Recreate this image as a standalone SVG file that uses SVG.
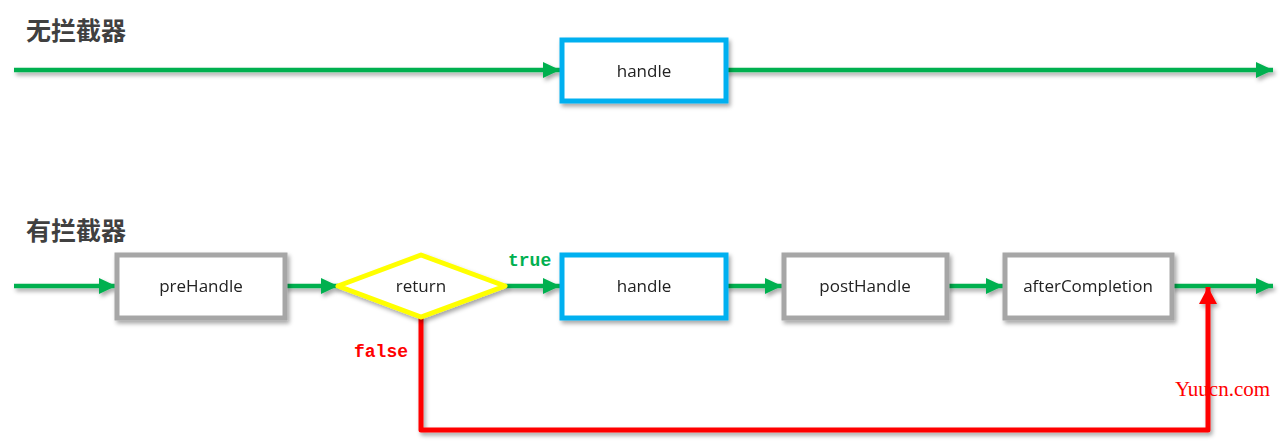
<svg xmlns="http://www.w3.org/2000/svg" width="1285" height="445" viewBox="0 0 1285 445">
<style>
.title{font-family:"Noto Sans CJK SC",sans-serif;font-weight:bold;font-size:25px;fill:#404040}
.lbl{font-family:"Open Sans","Liberation Sans",sans-serif;font-size:17px;fill:#222;text-anchor:middle}
.g{stroke:#00b050;stroke-width:4.5;fill:none}
.r{stroke:#ff0000;stroke-width:5;fill:none;stroke-linejoin:round}
.box{fill:#fff;stroke-width:5}
.blue{stroke:#00b0f0}
.gray{stroke:#a6a6a6}
.code{font-family:"Liberation Mono",monospace;font-weight:bold;font-size:18px}
</style>
<defs>
<filter id="sh" x="-10%" y="-10%" width="130%" height="150%">
<feDropShadow dx="2" dy="3" stdDeviation="2" flood-color="#000" flood-opacity="0.35"/>
</filter>
<marker id="ag" markerUnits="userSpaceOnUse" markerWidth="18" markerHeight="16" refX="17" refY="8" orient="auto">
<path d="M0,0 L17,8 L0,16 z" fill="#00b050"/>
</marker>
<marker id="ar" markerUnits="userSpaceOnUse" markerWidth="18" markerHeight="18" refX="17" refY="9" orient="auto">
<path d="M0,0 L17,9 L0,18 z" fill="#ff0000"/>
</marker>
</defs>
<text class="title" x="26" y="40">无拦截器</text>
<text class="title" x="26" y="240">有拦截器</text>
<g id="connectors" filter="url(#sh)">
<line class="g" x1="14" y1="70" x2="560" y2="70" marker-end="url(#ag)"/>
<line class="g" x1="726" y1="70" x2="1273" y2="70" marker-end="url(#ag)"/>
<line class="g" x1="14" y1="286" x2="116" y2="286" marker-end="url(#ag)"/>
<line class="g" x1="285" y1="286" x2="338" y2="286" marker-end="url(#ag)"/>
<line class="g" x1="505" y1="286" x2="560" y2="286" marker-end="url(#ag)"/>
<line class="g" x1="726" y1="286" x2="782" y2="286" marker-end="url(#ag)"/>
<line class="g" x1="947" y1="286" x2="1003" y2="286" marker-end="url(#ag)"/>
<line class="g" x1="1172" y1="286" x2="1273" y2="286" marker-end="url(#ag)"/>
<polyline class="r" points="421,317 421,430 1208,430 1208,287" marker-end="url(#ar)"/>
</g>
<text class="code" x="508" y="266" fill="#00b050">true</text>
<text class="code" x="354" y="357" fill="#ff0000">false</text>
<g id="handle1" filter="url(#sh)">
<rect class="box blue" x="562" y="40" width="164" height="61"/>
<text class="lbl" x="644" y="77">handle</text>
</g>
<g id="preHandle" filter="url(#sh)">
<rect class="box gray" x="117" y="255" width="168" height="63"/>
<text class="lbl" x="201" y="292">preHandle</text>
</g>
<g id="return" filter="url(#sh)">
<polygon points="338,286 421,255 505,286 421,317" fill="#fff" stroke="#ffff00" stroke-width="5" stroke-linejoin="round"/>
<text class="lbl" x="421" y="292">return</text>
</g>
<g id="handle2" filter="url(#sh)">
<rect class="box blue" x="562" y="255" width="164" height="63"/>
<text class="lbl" x="644" y="292">handle</text>
</g>
<g id="postHandle" filter="url(#sh)">
<rect class="box gray" x="784" y="255" width="163" height="63"/>
<text class="lbl" x="865" y="292">postHandle</text>
</g>
<g id="afterCompletion" filter="url(#sh)">
<rect class="box gray" x="1005" y="255" width="167" height="63"/>
<text class="lbl" x="1088" y="292">afterCompletion</text>
</g>
<text x="1175" y="396" font-family="Liberation Serif,serif" font-size="21" fill="#ff0000">Yuucn.com</text>
</svg>
